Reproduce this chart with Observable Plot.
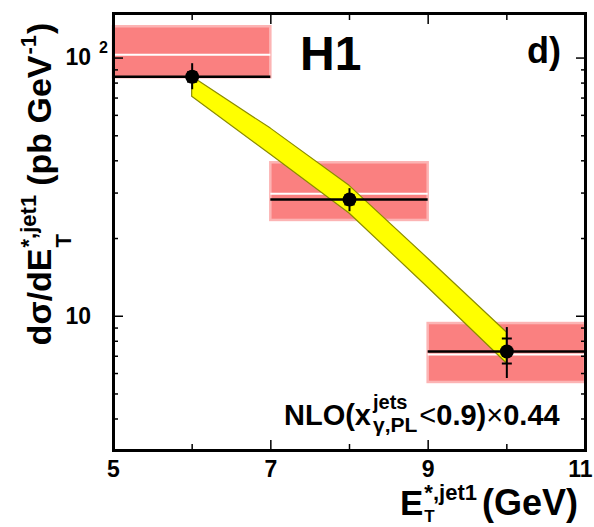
<!DOCTYPE html>
<html><head><meta charset="utf-8">
<script src="https://cdn.jsdelivr.net/npm/d3@7"></script>
<script src="https://cdn.jsdelivr.net/npm/@observablehq/plot@0.6"></script>
<style>html,body{margin:0;padding:0;background:#fff;overflow:hidden}</style>
</head><body><div id="chart"></div>
<script>
// ---- data ----
const binLo = [5, 7, 9];
const binHi = [7, 9, 11];
const dataValue = [84.6, 28.3, 7.30];
const nloBandLow = [83.9, 23.5, 5.54];
const nloBandHigh = [132.2, 39.3, 9.37];
const nloCentral = [103.0, 29.8, 7.11];
const pointX = [6, 8, 10];
const totErrLow = [75.4, 25.4, 5.74];
const totErrHigh = [95.1, 31.2, 9.04];
const statErrLow = [81.0, 27.1, 6.56];
const statErrHigh = [88.2, 29.5, 8.20];
const bandX = [6, 7, 8, 9, 10];
const bandLow = [70.8, 42.2, 25.0, 12.9, 6.56];
const bandHigh = [84.6, 53.3, 32.0, 16.7, 8.65];
const xMajorTicks = [5, 7, 9, 11];
const xMinorTicks = [6, 8, 10];
const yMajorTicks = [10, 100];
const yMinorTicks = [4, 5, 6, 7, 8, 9, 20, 30, 40, 50, 60, 70, 80, 90];

const FONT = "'Liberation Sans', Arial, Helvetica, sans-serif";

const bins = binLo.map((lo, i) => ({x1: lo, x2: binHi[i], data: dataValue[i], lo: nloBandLow[i], hi: nloBandHigh[i], c: nloCentral[i]}));
const points = pointX.map((x, i) => ({x, y: dataValue[i], tlo: totErrLow[i], thi: totErrHigh[i], slo: statErrLow[i], shi: statErrHigh[i]}));
const band = bandX.map((x, i) => ({x, lo: bandLow[i], hi: bandHigh[i]}));

const hline = {draw(ctx, size) { const r = Math.sqrt(size / Math.PI); ctx.moveTo(-r, 0); ctx.lineTo(r, 0); }};
const blank = () => "";

const chart = Plot.plot({
  width: 594, height: 527,
  marginLeft: 113, marginRight: 9, marginTop: 13, marginBottom: 77,
  x: {domain: [5, 11]},
  y: {type: "log", domain: [3.02, 148.8]},
  style: {fontFamily: FONT, fontSize: "23px", fontWeight: "bold", background: "white", color: "black"},
  marks: [
    Plot.rect(bins, {x1: "x1", x2: "x2", y1: "lo", y2: "hi", fill: "#fa8080", stroke: "#fcb4b4", strokeWidth: 2.5}),
    Plot.ruleY(bins, {x1: "x1", x2: "x2", y: "c", stroke: "white", strokeWidth: 2}),
    Plot.areaY(band, {x: "x", y1: "lo", y2: "hi", fill: "#ffff00", stroke: "#8c8c00", strokeWidth: 1.2}),
    Plot.ruleY(bins, {x1: "x1", x2: "x2", y: "data", stroke: "black", strokeWidth: 2.5}),
    Plot.ruleX(points, {x: "x", y1: "tlo", y2: "thi", stroke: "black", strokeWidth: 2}),
    Plot.dot(points, {x: "x", y: "slo", r: 5, symbol: hline, stroke: "black", strokeWidth: 2, fill: "none"}),
    Plot.dot(points, {x: "x", y: "shi", r: 5, symbol: hline, stroke: "black", strokeWidth: 2, fill: "none"}),
    Plot.dot(points, {x: "x", y: "y", r: 7, fill: "black", stroke: "none"}),
    Plot.axisX({anchor: "bottom", ticks: xMajorTicks, tickSize: -10, tickPadding: 20, tickFormat: d => String(d), label: null, strokeWidth: 1.5}),
    Plot.axisX({anchor: "bottom", ticks: xMinorTicks, tickSize: -6, tickFormat: blank, label: null, strokeWidth: 1.5}),
    Plot.axisX({anchor: "top", ticks: xMajorTicks, tickSize: -10, tickFormat: blank, label: null, strokeWidth: 1.5}),
    Plot.axisX({anchor: "top", ticks: xMinorTicks, tickSize: -6, tickFormat: blank, label: null, strokeWidth: 1.5}),
    Plot.axisY({anchor: "left", ticks: yMajorTicks, tickSize: -10, tickPadding: 58, textAnchor: "start", tickFormat: d => d === 100 ? "10²" : "10", label: null, strokeWidth: 1.5}),
    Plot.axisY({anchor: "left", ticks: yMinorTicks, tickSize: -5, tickFormat: blank, label: null, strokeWidth: 1.5}),
    Plot.axisY({anchor: "right", ticks: yMajorTicks, tickSize: -10, tickFormat: blank, label: null, strokeWidth: 1.5}),
    Plot.axisY({anchor: "right", ticks: yMinorTicks, tickSize: -5, tickFormat: blank, label: null, strokeWidth: 1.5}),
    Plot.frame({stroke: "black", strokeWidth: 3})
  ]
});
document.getElementById("chart").appendChild(chart);

const svg = d3.select(chart.tagName.toLowerCase() === "svg" ? chart : chart.querySelector("svg"));

// superscript on the 10^2 tick label; keep "11" inside the page
svg.selectAll("text").each(function () {
  const t = d3.select(this);
  if (this.textContent === "10²") {
    t.text("10");
    t.append("tspan").attr("dx", 8).attr("dy", -12).attr("font-size", 16).text("2");
  } else if (this.textContent === "11") {
    t.attr("dx", -5);
  }
});

function rich(parts, {x, y, rotate = 0, anchor = "start"}) {
  const g = svg.append("g").attr("transform", `translate(${x},${y}) rotate(${rotate})`)
    .attr("font-family", FONT).attr("fill", "black").attr("text-anchor", "start");
  let cursor = 0, lastStart = 0;
  const nodes = [];
  for (const p of parts) {
    const t = g.append("text").attr("y", p.dy || 0).attr("font-size", p.size)
      .attr("font-weight", p.weight || "bold").text(p.t);
    const w = t.node().getComputedTextLength();
    const x0 = p.stack ? lastStart : cursor + (p.dx || 0);
    t.attr("x", x0);
    if (!p.stack) lastStart = x0;
    cursor = p.stack ? Math.max(cursor, x0 + w) : x0 + w;
    nodes.push(t);
  }
  if (anchor === "middle") nodes.forEach(t => t.attr("x", +t.attr("x") - cursor / 2));
}

// y-axis title
rich([
  {t: "dσ/dE", size: 34},
  {t: "T", size: 22, dy: 20, dx: 1},
  {t: "*,jet1", size: 22, dy: -15, stack: true},
  {t: "(pb GeV", size: 34, dx: 9},
  {t: "-1", size: 22, dy: -15, dx: 1},
  {t: ")", size: 34, dx: 1}
], {x: 51, y: 184, rotate: -90, anchor: "middle"});

// x-axis title
rich([
  {t: "E", size: 35},
  {t: "T", size: 17, dy: 7, dx: 1},
  {t: "*,jet1", size: 22, dy: -15, stack: true},
  {t: "(GeV)", size: 36, dx: 5}
], {x: 400, y: 515});

// NLO annotation
rich([
  {t: "NLO(x", size: 29},
  {t: "jets", size: 20, dy: -16, dx: 2},
  {t: "γ,PL", size: 21, dy: 7, stack: true},
  {t: "<", size: 29, weight: "normal", dx: 2},
  {t: "0.9)", size: 29},
  {t: "×", size: 29, weight: "normal"},
  {t: "0.44", size: 29}
], {x: 284, y: 425});

// H1 and panel letter
rich([{t: "H1", size: 48}], {x: 300, y: 70});
rich([{t: "d)", size: 36}], {x: 527, y: 63});
</script>
</body></html>
